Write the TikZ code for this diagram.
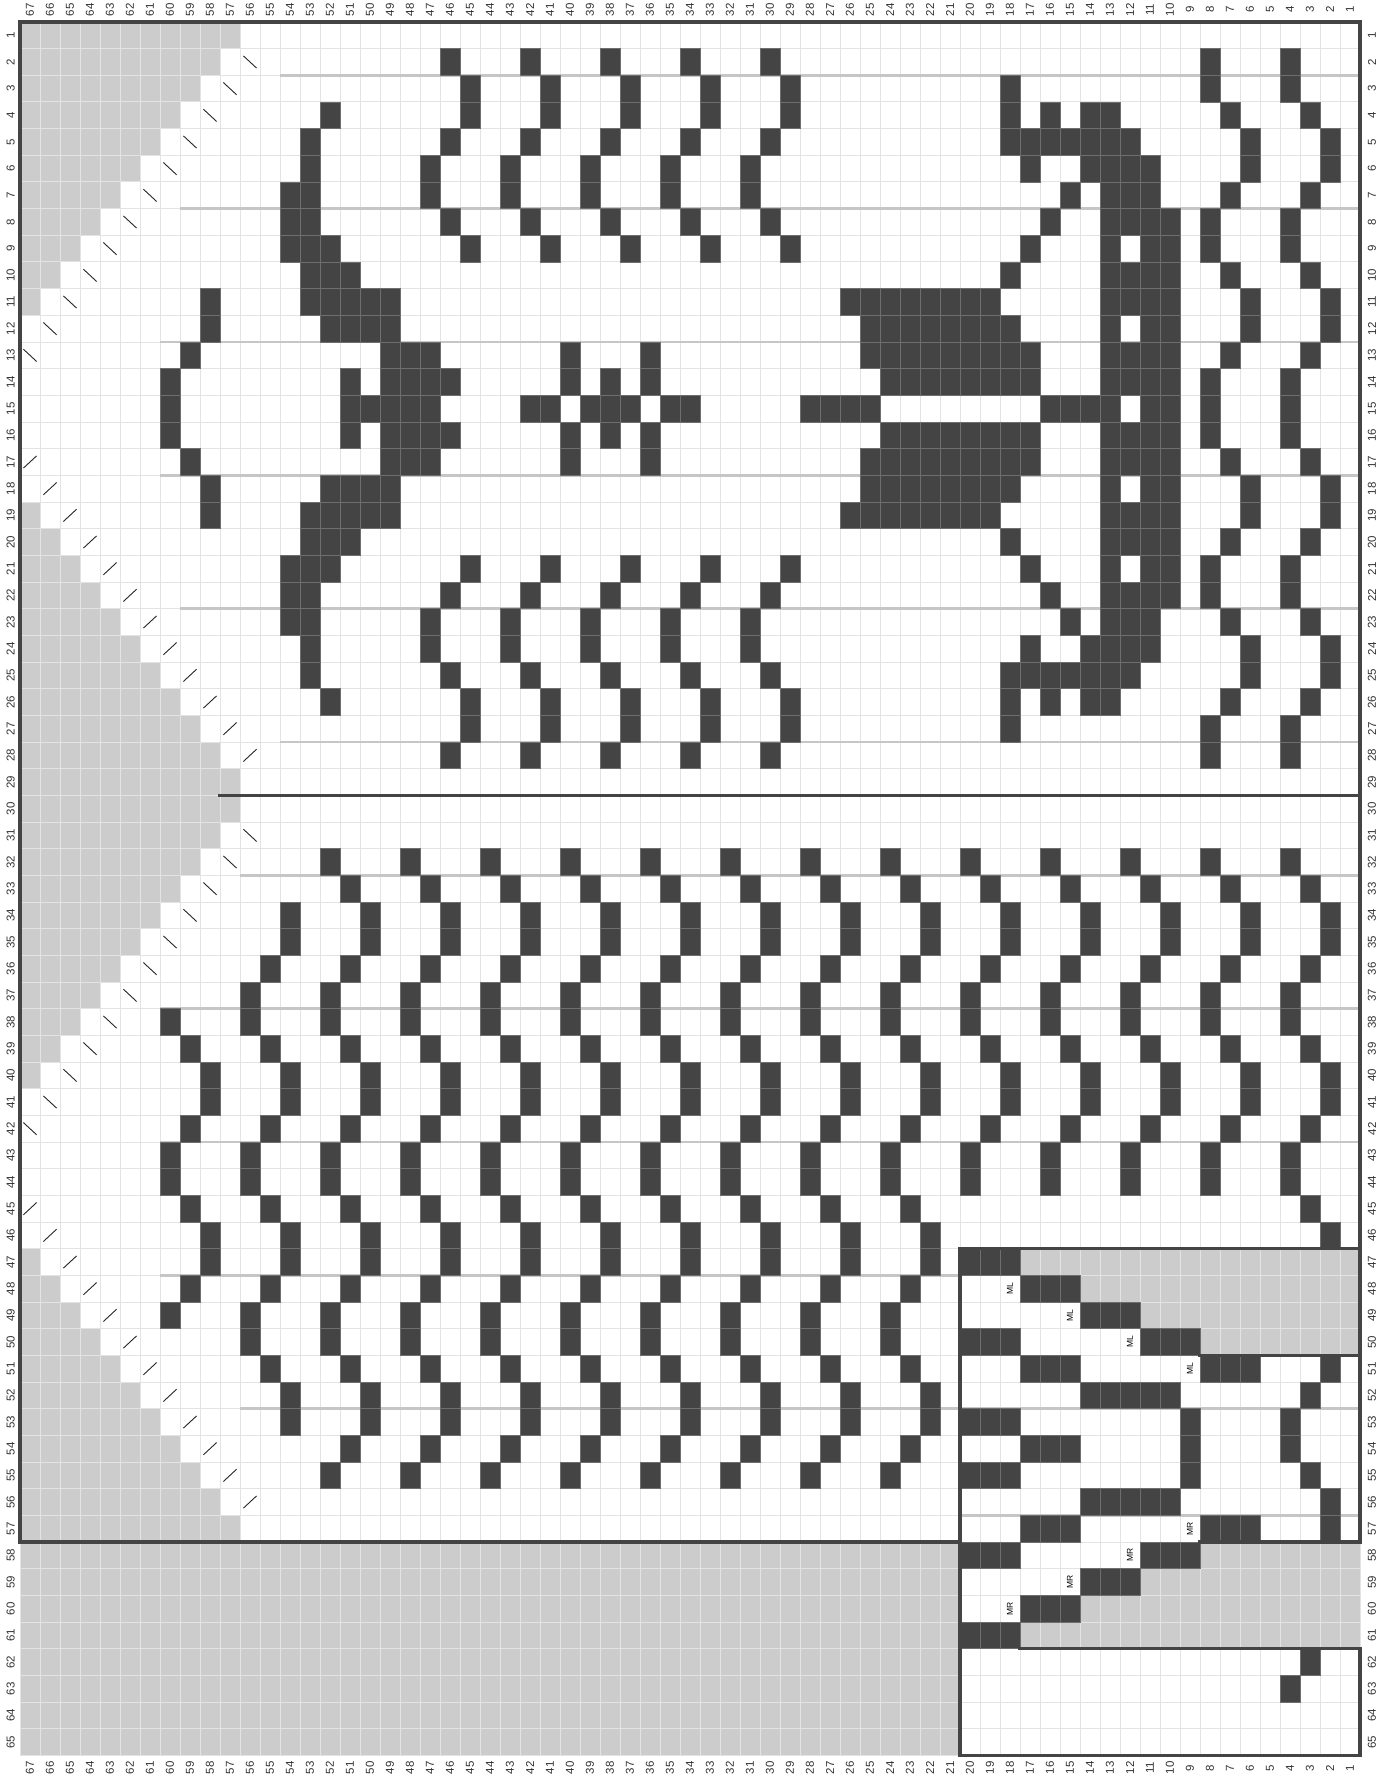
\documentclass[tikz,border=0pt]{standalone}
\usepackage{fontspec}
\setmainfont{Liberation Sans}
\definecolor{nsgray}{HTML}{CCCCCC}
\definecolor{gridc}{HTML}{E3E3E3}
\definecolor{cellblk}{HTML}{444444}
\definecolor{cellblkln}{HTML}{6E6E6E}
\definecolor{sectc}{HTML}{C6C6C6}
\definecolor{bordc}{HTML}{444444}
\definecolor{labc}{HTML}{333333}
\tikzset{
  nsfill/.style={fill=nsgray},
  gridline/.style={draw=gridc, line width=1pt},
  blkcell/.style={fill=cellblk, draw=cellblkln, line width=0.6pt},
  sectline/.style={draw=sectc, line width=2.8pt},
  bordline/.style={draw=bordc, line width=3.5pt, line join=miter, line cap=rect},
  decmark/.style={draw=black!85, line width=0.9pt},
  numlab/.style={rotate=90, font=\fontsize{11.5}{12}\selectfont, text=labc, inner sep=0pt, anchor=center},
  mlab/.style={rotate=90, font=\fontsize{8.5}{9}\selectfont, text=black, inner sep=0.5pt}
}
\begin{document}
\begin{tikzpicture}[x=1pt,y=1pt]
\useasboundingbox (0,0) rectangle (1382,-1776);
\fill[white] (0,0) rectangle (1382,-1776);
\begin{scope}[shift={(1360pt,-22pt)}, x=-20pt, y=-26.6667pt]
  % ---------- no-stitch (gray) cells ----------
  \fill[nsfill] (56,0) rectangle (67,1);
  \foreach \r in {2,...,11} \fill[nsfill] ({55+\r},{\r-1}) rectangle (67,\r);
  \foreach \r in {19,...,28} \fill[nsfill] ({85-\r},{\r-1}) rectangle (67,\r);
  \fill[nsfill] (56,28) rectangle (67,30);
  \foreach \r in {31,...,40} \fill[nsfill] ({\r+26},{\r-1}) rectangle (67,\r);
  \foreach \r in {47,...,56} \fill[nsfill] ({113-\r},{\r-1}) rectangle (67,\r);
  \fill[nsfill] (56,56) rectangle (67,57);
  \fill[nsfill] (20,57) rectangle (67,65);
  \fill[nsfill] (0,46) rectangle (17,47);
  \fill[nsfill] (0,47) rectangle (14,48);
  \fill[nsfill] (0,48) rectangle (11,49);
  \fill[nsfill] (0,49) rectangle (8,50);
  \fill[nsfill] (0,57) rectangle (8,58);
  \fill[nsfill] (0,58) rectangle (11,59);
  \fill[nsfill] (0,59) rectangle (14,60);
  \fill[nsfill] (0,60) rectangle (17,61);
  % ---------- grid ----------
  \foreach \i in {0,...,67} \draw[gridline] (\i,0) -- (\i,65);
  \foreach \j in {0,...,65} \draw[gridline] (0,\j) -- (67,\j);
  % ---------- section lines ----------
  \draw[sectline] (54,2) -- (0,2);
  \draw[sectline] (59,7) -- (0,7);
  \draw[sectline] (60,12) -- (0,12);
  \draw[sectline] (60,17) -- (0,17);
  \draw[sectline] (59,22) -- (0,22);
  \draw[sectline] (54,27) -- (0,27);
  \draw[sectline] (56,32) -- (0,32);
  \draw[sectline] (60,37) -- (0,37);
  \draw[sectline] (60,42) -- (0,42);
  \draw[sectline] (60,47) -- (20,47);
  \draw[sectline] (56,52) -- (0,52);
  \draw[sectline] (20,56) -- (0,56);
  % ---------- motif rows 2..28 (symmetric about row 15) ----------
  \foreach \r/\cl in {
    2/{46,42,38,34,30,8,4},
    3/{45,41,37,33,29,18,8,4},
    4/{52,45,41,37,33,29,18,16,14,13,7,3},
    5/{53,46,42,38,34,30,18,17,16,15,14,13,12,6,2},
    6/{53,47,43,39,35,31,17,14,13,12,11,6,2},
    7/{54,53,47,43,39,35,31,15,13,12,11,7,3},
    8/{54,53,46,42,38,34,30,16,13,12,11,10,8,4},
    9/{54,53,52,45,41,37,33,29,17,13,11,10,8,4},
    10/{53,52,51,18,13,12,11,10,7,3},
    11/{58,53,52,51,50,49,26,25,24,23,22,21,20,19,13,12,11,10,6,2},
    12/{58,52,51,50,49,25,24,23,22,21,20,19,18,13,11,10,6,2},
    13/{59,49,48,47,40,36,25,24,23,22,21,20,19,18,17,13,12,11,10,7,3},
    14/{60,51,49,48,47,46,40,38,36,24,23,22,21,20,19,18,17,13,12,11,10,8,4}}{
    \foreach \c in \cl {
      \fill[blkcell] ({\c-1},{\r-1}) rectangle (\c,\r);
      \fill[blkcell] ({\c-1},{29-\r}) rectangle (\c,{30-\r});
    }
  }
  \foreach \c in {60,51,50,49,48,47,42,41,39,38,37,35,34,28,27,26,25,16,15,14,13,11,10,8,4}
    \fill[blkcell] ({\c-1},14) rectangle (\c,15);
  % ---------- wave rows 32..55 ----------
  \foreach \r/\s/\e in {32/4/52, 33/3/51, 34/2/54, 35/2/54, 36/3/55, 37/4/56, 38/4/60,
      39/3/59, 40/2/58, 41/2/58, 42/3/59, 43/4/60, 44/4/60, 45/23/59, 46/22/58,
      47/22/58, 48/23/59, 49/24/60, 50/24/56, 51/23/55, 52/22/54, 53/22/54,
      54/23/51, 55/24/52}{
    \pgfmathtruncatemacro\t{\s+4}
    \foreach \c in {\s,\t,...,\e} \fill[blkcell] ({\c-1},{\r-1}) rectangle (\c,\r);
  }
  % ---------- gusset box cells ----------
  \foreach \r/\cl in {
    45/{3}, 46/{2}, 47/{18,19,20}, 48/{15,16,17}, 49/{12,13,14},
    50/{18,19,20,9,10,11}, 51/{15,16,17,6,7,8,2}, 52/{10,11,12,13,14,3},
    53/{18,19,20,9,4}, 54/{15,16,17,9,4}, 55/{18,19,20,9,3},
    56/{10,11,12,13,14,2}, 57/{15,16,17,6,7,8,2}, 58/{18,19,20,9,10,11},
    59/{12,13,14}, 60/{15,16,17}, 61/{18,19,20}, 62/{3}, 63/{4}}{
    \foreach \c in \cl \fill[blkcell] ({\c-1},{\r-1}) rectangle (\c,\r);
  }
  % ---------- decrease marks ----------
  \foreach \r in {2,...,13} {
    \pgfmathtruncatemacro\c{54+\r}
    \draw[decmark] ({\c-0.17},{\r-0.73}) -- ({\c-0.83},{\r-0.27});
  }
  \foreach \r in {31,...,42} {
    \pgfmathtruncatemacro\c{\r+25}
    \draw[decmark] ({\c-0.17},{\r-0.73}) -- ({\c-0.83},{\r-0.27});
  }
  \foreach \r in {17,...,28} {
    \pgfmathtruncatemacro\c{84-\r}
    \draw[decmark] ({\c-0.17},{\r-0.27}) -- ({\c-0.83},{\r-0.73});
  }
  \foreach \r in {45,...,56} {
    \pgfmathtruncatemacro\c{112-\r}
    \draw[decmark] ({\c-0.17},{\r-0.27}) -- ({\c-0.83},{\r-0.73});
  }
  % ---------- ML / MR labels ----------
  \node[mlab] (ml1) at (17.5,47.5) {ML};
  \node[mlab] (ml2) at (14.5,48.5) {ML};
  \node[mlab] (ml3) at (11.5,49.5) {ML};
  \node[mlab] (ml4) at (8.5,50.5) {ML};
  \node[mlab] (mr1) at (8.5,56.5) {MR};
  \node[mlab] (mr2) at (11.5,57.5) {MR};
  \node[mlab] (mr3) at (14.5,58.5) {MR};
  \node[mlab] (mr4) at (17.5,59.5) {MR};
  % ---------- heavy borders ----------
  \draw[bordline] (20,57) -- (67,57) -- (67,0) -- (0,0) -- (0,57) -- (8,57);
  \draw[bordline] (57,29) -- (0,29);
  \draw[bordline] (0,46) -- (20,46) -- (20,65) -- (0,65) -- (0,61) -- (17,61);
  \draw[bordline] (8,50) -- (0,50);
  % ---------- numbering ----------
  \foreach \c in {1,...,67} {
    \node[numlab] (ct\c) at ({\c-0.5},-0.46) {\c};
    \node[numlab] (cb\c) at ({\c-0.5},65.47) {\c};
  }
  \foreach \r in {1,...,65} {
    \node[numlab] (rl\r) at (67.47,{\r-0.5}) {\r};
    \node[numlab] (rr\r) at (-0.6,{\r-0.5}) {\r};
  }
\end{scope}
\end{tikzpicture}
\end{document}
